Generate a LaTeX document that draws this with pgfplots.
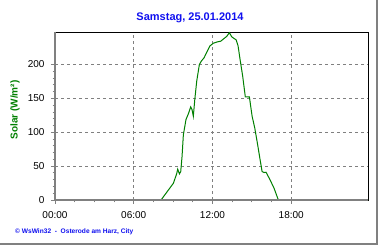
\documentclass[border=0pt]{standalone}
\usepackage{fontspec}
\setmainfont{Liberation Sans}
\usepackage{pgfplots}
\pgfplotsset{compat=1.18}
\definecolor{wsgreen}{RGB}{0,128,0}
\definecolor{wsblue}{RGB}{16,16,240}
\definecolor{wsgray}{RGB}{128,128,128}
\begin{document}
\begin{tikzpicture}[x=1pt,y=1pt]
\useasboundingbox (0,0) rectangle (380,245);
\fill[white] (0,0) rectangle (380,245);
\begin{axis}[
  at={(55pt,45pt)}, anchor=south west,
  scale only axis, width=313pt, height=168pt,
  xmin=0, xmax=23.85, ymin=0, ymax=248,
  xtick={0,6,12,18}, xticklabels={00:00,06:00,12:00,18:00},
  ytick={0,50,100,150,200},
  minor x tick num=3, minor y tick num=4,
  xtick pos=bottom, ytick pos=left, tick align=outside,
  major tick length=4pt, minor tick length=2.5pt,
  tick style={wsgray, line width=0.8pt},
  axis line style={black, line width=0.8pt},
  grid=major,
  major grid style={wsgray, line width=0.7pt, dash pattern=on 3pt off 3pt},
  ticklabel style={font=\fontsize{10}{12}\selectfont, black},
  /pgf/number format/assume math mode=true,
  xticklabel style={yshift=-4pt},
  yticklabel style={xshift=-3pt},
  clip=false,
]
\addplot[wsgreen, line width=1pt] coordinates {
(0,0) (8.08,0) (9.02,24.7) (9.27,38.6) (9.35,45.5) (9.48,38.6) (9.58,42)
(9.68,64) (9.78,96) (9.98,118.7) (10.19,128.6) (10.34,137.5) (10.44,133.5)
(10.54,123.6) (10.65,148) (10.8,175.5) (11.0,200) (11.15,205) (11.36,210)
(11.61,220) (11.81,227.5) (12.07,231.5) (12.37,233.4) (12.63,234.4)
(12.88,238.4) (13.08,241.4) (13.29,247) (13.46,241) (13.64,238.4)
(13.8,236.5) (13.95,227.5) (14.1,207.7) (14.3,183) (14.5,152.4)
(14.81,152.4) (15.02,123.6) (15.22,106.4) (15.42,84) (15.63,59.3)
(15.78,42) (15.93,40.5) (16.08,41) (16.39,29.7) (16.69,17.4) (17.02,0)
(23.85,0)
};
\draw[wsgray, line width=2pt] (rel axis cs:0,1) -- (rel axis cs:0,0) -- (rel axis cs:1,0);
\end{axis}
\node[font=\bfseries\fontsize{11}{13}\selectfont, text=wsblue] at (190,227.5) {Samstag, 25.01.2014};
\node[font=\bfseries\fontsize{10}{12}\selectfont, text=wsgreen, rotate=90] at (15,135) {Solar (W/m²)};
\node[font=\bfseries\fontsize{6.6}{8}\selectfont, text=wsblue, anchor=west, inner sep=0pt] at (15,13.5) {© WsWin32 \ - \ Osterode am Harz, City};
\draw[wsgray, line width=2pt] (0,1) -- (377,1) -- (377,245);
\end{tikzpicture}
\end{document}
